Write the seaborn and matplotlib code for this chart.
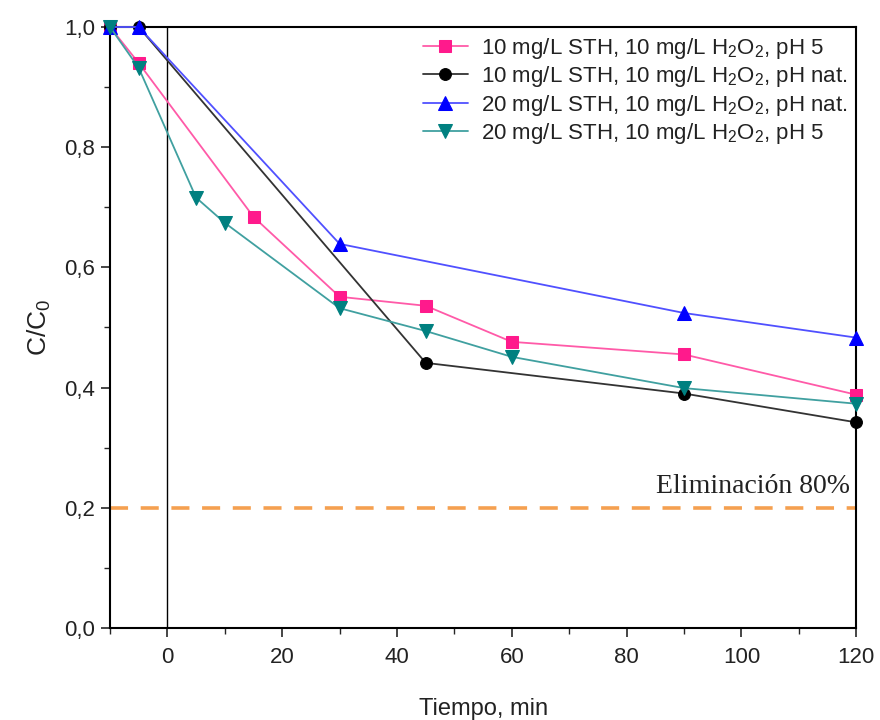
import numpy as np
import pandas as pd
import matplotlib
matplotlib.use("Agg")
import matplotlib.pyplot as plt
from matplotlib.ticker import MultipleLocator, FuncFormatter
import seaborn as sns

# ---- data ----
labels = [
    "10 mg/L STH, 10 mg/L H$_2$O$_2$, pH 5",
    "10 mg/L STH, 10 mg/L H$_2$O$_2$, pH nat.",
    "20 mg/L STH, 10 mg/L H$_2$O$_2$, pH nat.",
    "20 mg/L STH, 10 mg/L H$_2$O$_2$, pH 5",
]
t_pink = [-10, -5, 15, 30, 45, 60, 90, 120]
c_pink = [1.0, 0.94, 0.684, 0.551, 0.536, 0.476, 0.455, 0.388]
t_black = [-10, -5, 45, 90, 120]
c_black = [1.0, 1.0, 0.441, 0.390, 0.342]
t_blue = [-10, -5, 30, 90, 120]
c_blue = [1.0, 1.0, 0.639, 0.524, 0.483]
t_teal = [-10, -5, 5, 10, 30, 45, 60, 90, 120]
c_teal = [1.0, 0.932, 0.716, 0.674, 0.532, 0.494, 0.451, 0.399, 0.373]
threshold = 0.2
threshold_label = "Eliminación 80%"

sns.set_style("white")
plt.rcParams["font.family"] = ["Liberation Sans", "DejaVu Sans"]
plt.rcParams["mathtext.fontset"] = "custom"
plt.rcParams["mathtext.rm"] = "Liberation Sans"
plt.rcParams["mathtext.it"] = "Liberation Sans:italic"

fig = plt.figure(figsize=(8.8, 7.2), dpi=100)
ax = fig.add_axes([0.125, 0.128, 0.848, 0.8345])

series = [
    (t_pink, c_pink, labels[0], "#FF1A8C", "#FF5AA8", "s", 9),
    (t_black, c_black, labels[1], "#000000", "#333333", "o", 8.5),
    (t_blue, c_blue, labels[2], "#0000FF", "#5050FF", "^", 10.5),
    (t_teal, c_teal, labels[3], "#008080", "#40A0A0", "v", 10.5),
]

ax.axvline(0, color="black", lw=1.0, zorder=1)
ax.axhline(threshold, color="#F5A050", lw=2.6, ls=(0, (5, 3.5)), zorder=1)

for t, c, lab, mc, lc, mk, ms in series:
    df = pd.DataFrame({"t": t, "c": c})
    sns.lineplot(data=df, x="t", y="c", ax=ax, color=lc, lw=1.3,
                 marker=mk, markersize=ms, markerfacecolor=mc,
                 markeredgecolor=mc, label=lab, clip_on=False, zorder=3)

ax.text(119, 0.214, threshold_label, ha="right", va="bottom",
        fontsize=20, family=["Liberation Serif"], color="#222222")

ax.set_xlim(-10, 120)
ax.set_ylim(0, 1.0)
ax.xaxis.set_major_locator(MultipleLocator(20))
ax.xaxis.set_minor_locator(MultipleLocator(10))
ax.yaxis.set_major_locator(MultipleLocator(0.2))
ax.yaxis.set_minor_locator(MultipleLocator(0.1))
ax.yaxis.set_major_formatter(FuncFormatter(lambda v, p: f"{v:.1f}".replace(".", ",")))
ax.tick_params(axis="x", which="major", pad=7)
ax.tick_params(axis="both", which="major", direction="out", length=6.5, width=1.2,
               labelsize=16, bottom=True, left=True, top=False, right=False,
               labelcolor="#222222")
ax.tick_params(axis="y", which="major", pad=4)
ax.tick_params(axis="both", which="minor", direction="out", length=4, width=1.0,
               bottom=True, left=True, top=False, right=False)
for s in ax.spines.values():
    s.set_linewidth(1.5)
    s.set_color("black")

ax.set_xlabel("Tiempo, min", fontsize=17, labelpad=22, color="#222222")
ax.set_ylabel("C/C$_0$", fontsize=19, labelpad=8, color="#222222")

leg = ax.legend(loc="upper right", bbox_to_anchor=(1.0, 1.0), frameon=False,
                fontsize=16, handlelength=2.0, handletextpad=0.6,
                labelspacing=0.15, borderaxespad=0.1, borderpad=0.3)
for txt in leg.get_texts():
    txt.set_color("#222222")

fig.savefig("out.png", dpi=100)
